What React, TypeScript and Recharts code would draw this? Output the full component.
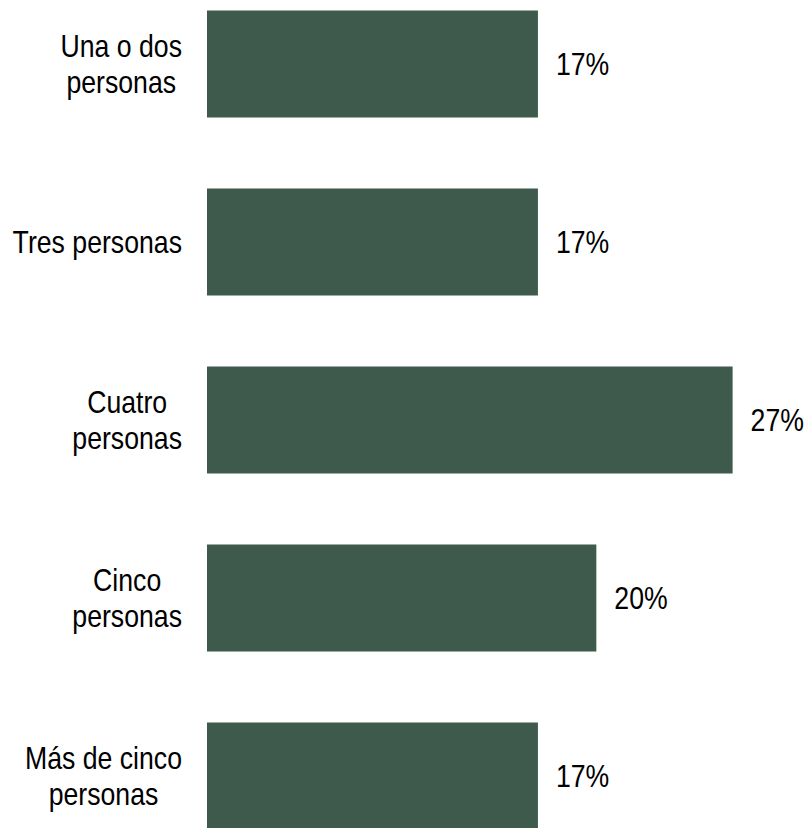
import { BarChart, Bar, XAxis, YAxis, LabelList } from "recharts";

const categories = [
  "Una o dos\npersonas",
  "Tres personas",
  "Cuatro\npersonas",
  "Cinco\npersonas",
  "Más de cinco\npersonas",
];
const shares = [17, 17, 27, 20, 17];

const data = categories.map((name, i) => ({ name, value: shares[i] }));

// no Arial Narrow here, so squeeze Liberation Sans horizontally
const FONT = '"Liberation Sans", Arial, sans-serif';
const FONT_SIZE = 31;
const NARROW = 0.86;
const LINE_H = 36;

let ctx: CanvasRenderingContext2D | null = null;
function measure(text: string) {
  if (!ctx) ctx = document.createElement("canvas").getContext("2d");
  if (!ctx) return text.length * 14;
  ctx.font = `${FONT_SIZE}px ${FONT}`;
  return ctx.measureText(text).width * NARROW;
}

function NarrowText({ x, y, anchor, children }: any) {
  return (
    <text
      transform={`translate(${x},${y}) scale(${NARROW},1)`}
      textAnchor={anchor}
      fontFamily={FONT}
      fontSize={FONT_SIZE}
      fill="#000"
    >
      {children}
    </text>
  );
}

function CategoryTick(props: any) {
  const { x, y, payload } = props;
  const lines = String(payload.value).split("\n");
  const boxW = Math.max(...lines.map(measure));
  const cx = x - boxW / 2;
  const firstBase = y - ((lines.length - 1) * LINE_H) / 2 + FONT_SIZE * 0.36;
  return (
    <g>
      {lines.map((line, i) => (
        <NarrowText key={i} x={cx} y={firstBase + i * LINE_H} anchor="middle">
          {line}
        </NarrowText>
      ))}
    </g>
  );
}

function ValueLabel(props: any) {
  const { x, y, width, height, value } = props;
  return (
    <NarrowText x={x + width + 18} y={y + height / 2 + FONT_SIZE * 0.36} anchor="start">
      {`${value}%`}
    </NarrowText>
  );
}

export default function App() {
  return (
    <div
      style={{
        position: "absolute",
        left: 0,
        top: 0,
        width: 806,
        height: 828,
        overflow: "hidden",
        background: "#fff",
      }}
    >
      <div style={{ position: "absolute", left: 0, top: -25.5 }}>
        <BarChart
          width={806}
          height={890}
          data={data}
          layout="vertical"
          barCategoryGap="20%"
          margin={{ top: 0, right: 15, bottom: 0, left: 0 }}
        >
          <XAxis type="number" domain={[0, 30]} hide />
          <YAxis
            type="category"
            dataKey="name"
            width={207}
            axisLine={false}
            tickLine={false}
            tickSize={0}
            tickMargin={25}
            tick={<CategoryTick />}
          />
          <Bar dataKey="value" fill="#3e5a4c" isAnimationActive={false}>
            <LabelList dataKey="value" content={<ValueLabel />} />
          </Bar>
        </BarChart>
      </div>
    </div>
  );
}
